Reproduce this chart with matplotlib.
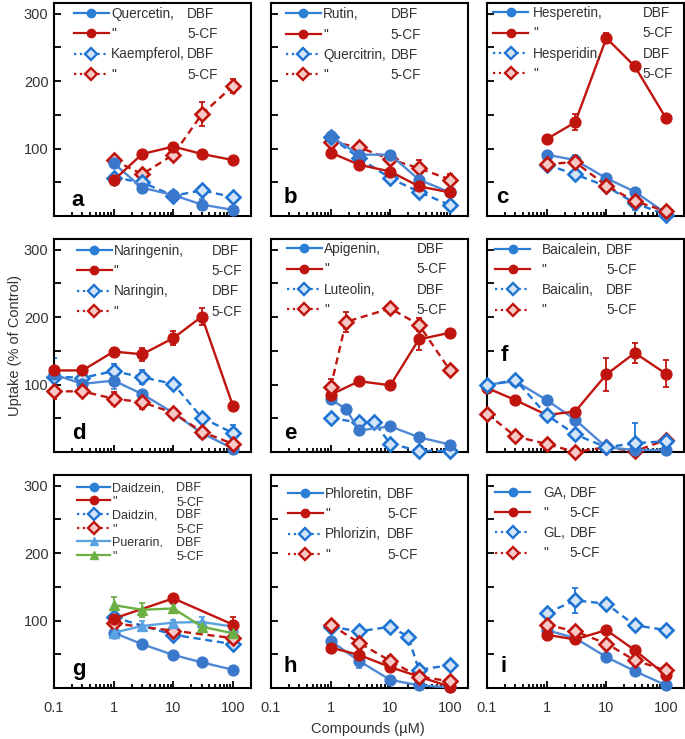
import matplotlib
matplotlib.use("Agg")
import matplotlib.pyplot as plt
from matplotlib.lines import Line2D
from matplotlib.ticker import MultipleLocator, LogLocator, NullFormatter, FixedLocator, FixedFormatter

plt.rcParams['font.family'] = ['Liberation Sans', 'DejaVu Sans']

# ---------------- data ----------------
conc5 = [1, 3, 10, 30, 100]
conc7 = [0.1, 0.3, 1, 3, 10, 30, 100]
conc3 = [1, 10, 100]

# a
quercetin_dbf = [78, 42, 31, 17, 9];        quercetin_dbf_err = [4, 4, 3, 8, 3]
quercetin_5cf = [53, 92, 103, 92, 83];      quercetin_5cf_err = [3, 4, 5, 3, 3]
kaempferol_dbf = [57, 50, 30, 38, 28];      kaempferol_dbf_err = [3, 3, 3, 3, 3]
kaempferol_5cf = [83, 62, 91, 151, 193];    kaempferol_5cf_err = [4, 5, 5, 18, 10]
# b
rutin_dbf = [118, 91, 91, 54, 35];          rutin_dbf_err = [5, 4, 5, 3, 3]
rutin_5cf = [94, 76, 66, 44, 35];           rutin_5cf_err = [3, 3, 3, 3, 3]
quercitrin_dbf = [117, 86, 56, 36, 16];     quercitrin_dbf_err = [3, 3, 3, 3, 3]
quercitrin_5cf = [110, 102, 84, 71, 54];    quercitrin_5cf_err = [5, 4, 4, 12, 8]
# c
hesperetin_dbf = [91, 83, 56, 36, 4];       hesperetin_dbf_err = [3, 8, 4, 5, 3]
hesperetin_5cf = [114, 139, 264, 222, 145]; hesperetin_5cf_err = [4, 12, 8, 4, 5]
hesperidin_dbf = [76, 62, 44, 19, 2];       hesperidin_dbf_err = [3, 3, 3, 10, 3]
hesperidin_5cf = [77, 80, 45, 22, 7];       hesperidin_5cf_err = [3, 4, 4, 4, 3]
# d
naringenin_dbf = [115, 101, 106, 86, 58, 28, 5];     naringenin_dbf_err = [4, 5, 12, 4, 3, 3, 3]
naringenin_5cf = [121, 121, 149, 145, 169, 201, 68]; naringenin_5cf_err = [4, 4, 6, 10, 10, 12, 4]
naringin_dbf = [112, 110, 120, 111, 101, 51, 28];    naringin_dbf_err = [28, 8, 10, 10, 6, 5, 12]
naringin_5cf = [90, 90, 79, 74, 58, 30, 12];         naringin_5cf_err = [12, 5, 10, 10, 4, 3, 3]
# e
apigenin_dbf_conc = [1, 1.8, 3, 10, 30, 100]
apigenin_dbf = [78, 64, 32, 38, 22, 11];    apigenin_dbf_err = [3, 3, 3, 3, 3, 3]
apigenin_5cf_conc = [1, 3, 10, 30, 100]
apigenin_5cf = [85, 105, 99, 167, 177];     apigenin_5cf_err = [4, 3, 3, 15, 5]
luteolin_dbf_conc = [1, 3, 5.4, 10, 30, 100]
luteolin_dbf = [50, 44, 44, 12, 2, 1];      luteolin_dbf_err = [3, 3, 3, 3, 3, 3]
luteolin_5cf_conc = [1, 1.8, 10, 30, 100]
luteolin_5cf = [96, 193, 213, 189, 121];    luteolin_5cf_err = [12, 15, 4, 10, 4]
# f
baicalein_dbf = [100, 105, 77, 48, 7, 3, 3];      baicalein_dbf_err = [3, 3, 3, 3, 3, 3, 3]
baicalein_5cf = [95, 77, 55, 60, 115, 147, 116];  baicalein_5cf_err = [3, 5, 5, 4, 25, 15, 20]
baicalin_dbf = [99, 107, 55, 26, 7, 13, 16];      baicalin_dbf_err = [3, 3, 5, 3, 3, 30, 3]
baicalin_5cf = [57, 23, 12, 0, 7, 1, 18];         baicalin_5cf_err = [3, 3, 3, 3, 3, 3, 3]
# g
daidzein_dbf = [82, 65, 49, 38, 27];        daidzein_dbf_err = [3, 3, 3, 3, 3]
daidzein_5cf = [103, 133, 94];              daidzein_5cf_err = [4, 4, 12]
daidzin_dbf = [105, 79, 65];                daidzin_dbf_err = [4, 5, 4]
daidzin_5cf = [96, 85, 74];                 daidzin_5cf_err = [4, 5, 4]
puerarin_dbf = [82, 92, 97, 98, 91];        puerarin_dbf_err = [3, 8, 4, 8, 4]
puerarin_5cf = [123, 116, 118, 91, 81];     puerarin_5cf_err = [12, 10, 6, 5, 5]
# h
phloretin_dbf = [70, 40, 12, 4, 1];         phloretin_dbf_err = [4, 10, 3, 3, 3]
phloretin_5cf = [60, 49, 31, 17, 2];        phloretin_5cf_err = [3, 4, 5, 3, 3]
phlorizin_dbf_conc = [1, 3, 10, 20, 30, 100]
phlorizin_dbf = [91, 84, 91, 76, 27, 34];   phlorizin_dbf_err = [3, 3, 3, 3, 3, 3]
phlorizin_5cf = [94, 67, 40, 17, 10];       phlorizin_5cf_err = [3, 4, 8, 3, 3]
# i
ga_dbf = [86, 74, 46, 25, 4];               ga_dbf_err = [3, 3, 3, 3, 3]
ga_5cf = [79, 72, 86, 56, 19];              ga_5cf_err = [3, 3, 4, 4, 3]
gl_dbf = [111, 130, 125, 93, 86];           gl_dbf_err = [3, 18, 4, 3, 3]
gl_5cf = [94, 84, 66, 41, 26];              gl_5cf_err = [3, 3, 3, 3, 3]

panel_letters = ['a', 'b', 'c', 'd', 'e', 'f', 'g', 'h', 'i']
xtick_vals = [0.1, 1, 10, 100]
xtick_labels = ['0.1', '1', '10', '100']
ytick_vals = [100, 200, 300]

# ---------------- styles ----------------
BLUE_C = '#3a78cc'
BLUE_L = '#4f88d4'
BLUE_D = '#1f74d3'
BLUE_FILL = '#d3e4f6'
RED = '#c0150f'
RED_FILL = '#f6c8c6'
LBLUE = '#5aa2e2'
GREEN = '#6cb044'

STY = {
    'cb': dict(marker='o', color=BLUE_L, mfc=BLUE_C, mec=BLUE_C, ls='-', ms=7.8, mew=1),
    'cr': dict(marker='o', color=RED, mfc=RED, mec=RED, ls='-', ms=7.8, mew=1),
    'db': dict(marker='D', color=BLUE_D, mfc=BLUE_FILL, mec=BLUE_D, ls=(0, (3, 2)), ms=7.3, mew=1.9),
    'dr': dict(marker='D', color=RED, mfc=RED_FILL, mec=RED, ls=(0, (3, 2)), ms=7.3, mew=1.9),
    'tb': dict(marker='^', color=LBLUE, mfc=LBLUE, mec=LBLUE, ls='-', ms=7.5, mew=1),
    'tg': dict(marker='^', color=GREEN, mfc=GREEN, mec=GREEN, ls='-', ms=7.5, mew=1),
}
LEG_STY = {
    'cb': dict(marker='o', color='#2a7fd5', mfc='#2a7fd5', mec='#2a7fd5', ls='-'),
    'cr': dict(marker='o', color=RED, mfc=RED, mec=RED, ls='-'),
    'db': dict(marker='D', color=BLUE_D, mfc=BLUE_FILL, mec=BLUE_D, ls=':'),
    'dr': dict(marker='D', color=RED, mfc=RED_FILL, mec=RED, ls=':'),
    'tb': dict(marker='^', color=LBLUE, mfc=LBLUE, mec=LBLUE, ls='-'),
    'tg': dict(marker='^', color=GREEN, mfc=GREEN, mec=GREEN, ls='-'),
}

panels = [
    dict(series=[(conc5, kaempferol_5cf, kaempferol_5cf_err, 'dr'),
                 (conc5, kaempferol_dbf, kaempferol_dbf_err, 'db'),
                 (conc5, quercetin_dbf, quercetin_dbf_err, 'cb'),
                 (conc5, quercetin_5cf, quercetin_5cf_err, 'cr')],
         legend=[('cb', 'Quercetin,', 'DBF'), ('cr', '"', '5-CF'),
                 ('db', 'Kaempferol,', 'DBF'), ('dr', '"', '5-CF')],
         hx=0.10, tpad=0.15, col2=0.677, lspace=0.46, top=0.982, letter=(0.12, 0.075)),
    dict(series=[(conc5, quercitrin_5cf, quercitrin_5cf_err, 'dr'),
                 (conc5, quercitrin_dbf, quercitrin_dbf_err, 'db'),
                 (conc5, rutin_dbf, rutin_dbf_err, 'cb'),
                 (conc5, rutin_5cf, rutin_5cf_err, 'cr')],
         legend=[('cb', 'Rutin,', 'DBF'), ('cr', '"', '5-CF'),
                 ('db', 'Quercitrin,', 'DBF'), ('dr', '"', '5-CF')],
         hx=0.075, tpad=0.15, col2=0.606, lspace=0.46, top=0.98, letter=(0.1, 0.085)),
    dict(series=[(conc5, hesperidin_dbf, hesperidin_dbf_err, 'db'),
                 (conc5, hesperetin_dbf, hesperetin_dbf_err, 'cb'),
                 (conc5, hesperidin_5cf, hesperidin_5cf_err, 'dr'),
                 (conc5, hesperetin_5cf, hesperetin_5cf_err, 'cr')],
         legend=[('cb', 'Hesperetin,', 'DBF'), ('cr', '"', '5-CF'),
                 ('db', 'Hesperidin,', 'DBF'), ('dr', '"', '5-CF')],
         hx=0.03, tpad=0.35, col2=0.79, lspace=0.46, top=0.985, letter=(0.076, 0.085)),
    dict(series=[(conc7, naringin_dbf, naringin_dbf_err, 'db'),
                 (conc7, naringenin_dbf, naringenin_dbf_err, 'cb'),
                 (conc7, naringin_5cf, naringin_5cf_err, 'dr'),
                 (conc7, naringenin_5cf, naringenin_5cf_err, 'cr')],
         legend=[('cb', 'Naringenin,', 'DBF'), ('cr', '"', '5-CF'),
                 ('db', 'Naringin,', 'DBF'), ('dr', '"', '5-CF')],
         hx=0.115, tpad=0.1, col2=0.80, lspace=0.46, top=0.977, letter=(0.126, 0.085)),
    dict(series=[(luteolin_dbf_conc, luteolin_dbf, luteolin_dbf_err, 'db'),
                 (apigenin_dbf_conc, apigenin_dbf, apigenin_dbf_err, 'cb'),
                 (apigenin_5cf_conc, apigenin_5cf, apigenin_5cf_err, 'cr'),
                 (luteolin_5cf_conc, luteolin_5cf, luteolin_5cf_err, 'dr')],
         legend=[('cb', 'Apigenin,', 'DBF'), ('cr', '"', '5-CF'),
                 ('db', 'Luteolin,', 'DBF'), ('dr', '"', '5-CF')],
         hx=0.08, tpad=0.15, col2=0.74, lspace=0.46, top=0.985, letter=(0.1, 0.085)),
    dict(series=[(conc7, baicalin_5cf, baicalin_5cf_err, 'dr'),
                 (conc7, baicalein_dbf, baicalein_dbf_err, 'cb'),
                 (conc7, baicalein_5cf, baicalein_5cf_err, 'cr'),
                 (conc7, baicalin_dbf, baicalin_dbf_err, 'db')],
         legend=[('cb', 'Baicalein,', 'DBF'), ('cr', '"', '5-CF'),
                 ('db', 'Baicalin,', 'DBF'), ('dr', '"', '5-CF')],
         hx=0.04, tpad=0.85, col2=0.605, lspace=0.46, top=0.983, letter=(0.09, 0.455)),
    dict(series=[(conc5, daidzein_dbf, daidzein_dbf_err, 'cb'),
                 (conc3, daidzin_dbf, daidzin_dbf_err, 'db'),
                 (conc3, daidzin_5cf, daidzin_5cf_err, 'dr'),
                 (conc5, puerarin_dbf, puerarin_dbf_err, 'tb'),
                 (conc3, daidzein_5cf, daidzein_5cf_err, 'cr'),
                 (conc5, puerarin_5cf, puerarin_5cf_err, 'tg')],
         legend=[('cb', 'Daidzein,', 'DBF'), ('cr', '"', '5-CF'),
                 ('db', 'Daidzin,', 'DBF'), ('dr', '"', '5-CF'),
                 ('tb', 'Puerarin,', 'DBF'), ('tg', '"', '5-CF')],
         hx=0.115, tpad=0.12, col2=0.62, lspace=0.13, top=0.967, letter=(0.126, 0.085),
         shift5=-0.004, fs=9.0, hl=2.7),
    dict(series=[(phlorizin_dbf_conc, phlorizin_dbf, phlorizin_dbf_err, 'db'),
                 (conc5, phloretin_dbf, phloretin_dbf_err, 'cb'),
                 (conc5, phloretin_5cf, phloretin_5cf_err, 'cr'),
                 (conc5, phlorizin_5cf, phlorizin_5cf_err, 'dr')],
         legend=[('cb', 'Phloretin,', 'DBF'), ('cr', '"', '5-CF'),
                 ('db', 'Phlorizin,', 'DBF'), ('dr', '"', '5-CF')],
         hx=0.085, tpad=0.15, col2=0.59, lspace=0.46, top=0.944, letter=(0.1, 0.1)),
    dict(series=[(conc5, gl_dbf, gl_dbf_err, 'db'),
                 (conc5, ga_dbf, ga_dbf_err, 'cb'),
                 (conc5, ga_5cf, ga_5cf_err, 'cr'),
                 (conc5, gl_5cf, gl_5cf_err, 'dr')],
         legend=[('cb', 'GA,', 'DBF'), ('cr', '"', '5-CF'),
                 ('db', 'GL,', 'DBF'), ('dr', '"', '5-CF')],
         hx=0.04, tpad=0.95, col2=0.42, lspace=0.46, top=0.95, letter=(0.085, 0.1)),
]

# ---------------- figure ----------------
W, H = 685, 739
fig = plt.figure(figsize=(W / 100, H / 100), dpi=100)
col_left = [54, 271, 487]
row_bottom = [216, 452, 688]
aw, ah = 197, 213
LEG_FS = 9.8

axes = []
for k, p in enumerate(panels):
    r, c = divmod(k, 3)
    ax = fig.add_axes([col_left[c] / W, 1 - row_bottom[r] / H, aw / W, ah / H])
    axes.append(ax)
    ax.set_xscale('log')
    ax.set_xlim(0.1, 200)
    ax.set_ylim(0, 316)
    for x, y, e, s in p['series']:
        st = STY[s]
        ax.errorbar(x, y, yerr=e, fmt='none', ecolor=st['color'],
                    elinewidth=1.3, capsize=2.5, capthick=1.3, zorder=2)
        ln, = ax.plot(x, y, lw=1.7, zorder=3, **st)
        ln.set_clip_on(False)
    for sp in ax.spines.values():
        sp.set_linewidth(1.5)
    ax.yaxis.set_major_locator(FixedLocator(ytick_vals))
    ax.yaxis.set_minor_locator(MultipleLocator(50))
    ax.xaxis.set_major_locator(FixedLocator(xtick_vals))
    ax.xaxis.set_minor_locator(LogLocator(base=10, subs=[2, 3, 4, 5, 6, 7, 8, 9]))
    ax.xaxis.set_minor_formatter(NullFormatter())
    ax.tick_params(which='both', direction='in', width=1.3, labelsize=10.5,
                   labelcolor='#333333', top=False, right=False)
    ax.tick_params(axis='y', which='both', length=5, pad=4)
    ax.tick_params(axis='x', which='major', length=5, pad=9.5)
    ax.tick_params(axis='x', which='minor', length=3)
    if r == 2:
        ax.xaxis.set_major_formatter(FixedFormatter(xtick_labels))
    else:
        ax.set_xticklabels([])
    if c != 0:
        ax.set_yticklabels([])
    ax.text(p['letter'][0], p['letter'][1], panel_letters[k], transform=ax.transAxes,
            ha='center', va='center', fontsize=16, fontweight='bold', color='black')
    fs = p.get('fs', LEG_FS)
    handles = [Line2D([], [], lw=1.6, ms=6, mew=1.7 if LEG_STY[s]['marker'] == 'D' else 1,
                      **LEG_STY[s]) for s, _, _ in p['legend']]
    labels = [lab for _, lab, _ in p['legend']]
    leg = ax.legend(handles, labels, loc='upper left', bbox_to_anchor=(p['hx'], p['top']),
                    frameon=False, fontsize=fs, handlelength=p.get('hl', 2.6),
                    handletextpad=p['tpad'], labelspacing=p['lspace'], borderpad=0,
                    borderaxespad=0, labelcolor='#333333')
    p['leg'] = leg

fig.text(0.022, 1 - 345 / H, 'Uptake (% of Control)', rotation=90, ha='center', va='center',
         fontsize=10.5, color='#333333')
fig.text(0.537, 0.013, 'Compounds (µM)', ha='center', va='center', fontsize=10.5, color='#333333')

fig.canvas.draw()
renderer = fig.canvas.get_renderer()
for ax, p in zip(axes, panels):
    inv = ax.transAxes.inverted()
    fs = p.get('fs', LEG_FS)
    for t, (_, _, second) in zip(p['leg'].get_texts(), p['legend']):
        bb = t.get_window_extent(renderer)
        yc = inv.transform((0, (bb.y0 + bb.y1) / 2))[1]
        if second == '5-CF':
            yc += p.get('shift5', 0)
        ax.text(p['col2'], yc, second, transform=ax.transAxes, ha='left', va='center',
                fontsize=fs, color='#333333')

fig.savefig('out.png', dpi=100)
